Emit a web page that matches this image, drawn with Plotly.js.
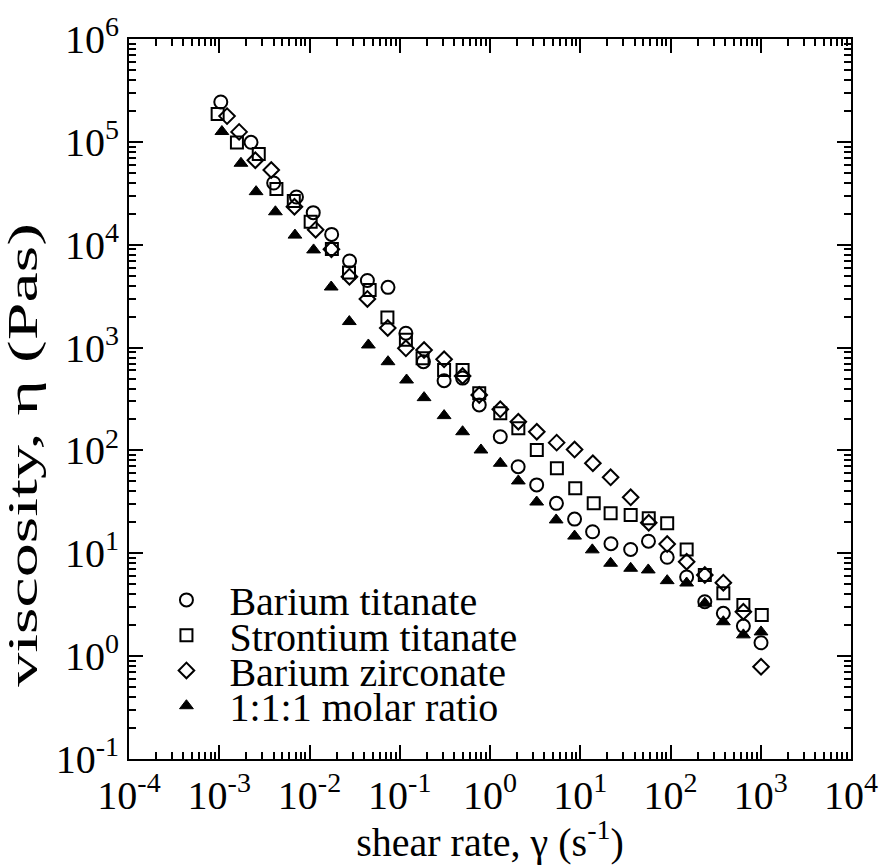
<!DOCTYPE html>
<html>
<head>
<meta charset="utf-8">
<script src="https://cdn.plot.ly/plotly-3.0.1.min.js"></script>
<style>html,body{margin:0;padding:0;background:#fff}</style>
</head>
<body>
<div id="chart" style="width:882px;height:865px"></div>
<script>
// Shear rate (1/s) and viscosity (Pa s) for each powder suspension
const btShear = [0.00104, 0.00225, 0.00401, 0.00717, 0.0110, 0.0176, 0.0278, 0.0438, 0.0741, 0.117, 0.183, 0.310, 0.497, 0.760, 1.30, 2.05, 3.29, 5.45, 8.65, 13.7, 21.9, 36.2, 57.0, 91.9, 151, 240, 385, 642, 1007];
const btVisc  = [2.44e5, 9.9e4, 3.98e4, 2.91e4, 2.05e4, 1.26e4, 6950, 4490, 3850, 1380, 729, 476, 505, 277, 136, 69.5, 46.2, 30.6, 21.5, 16.2, 12.4, 10.9, 13.1, 9.14, 5.88, 3.38, 2.61, 1.96, 1.35];

const stShear = [0.00096, 0.00157, 0.00274, 0.00430, 0.00670, 0.0103, 0.0177, 0.0274, 0.0464, 0.0730, 0.117, 0.179, 0.310, 0.497, 0.760, 1.30, 2.06, 3.30, 5.51, 8.80, 14.1, 21.7, 36.2, 57.4, 91.9, 151, 240, 385, 642, 1026];
const stVisc  = [1.87e5, 9.86e4, 7.62e4, 3.48e4, 2.66e4, 1.67e4, 9080, 5370, 3630, 1960, 1190, 787, 606, 606, 359, 230, 164, 101, 67, 42.8, 30.6, 24.5, 23.6, 21.9, 19.6, 10.9, 6.15, 4.08, 3.14, 2.51];

const bzShear = [0.00122, 0.00166, 0.00251, 0.00377, 0.00681, 0.0117, 0.0175, 0.0277, 0.0438, 0.0736, 0.117, 0.186, 0.310, 0.497, 0.760, 1.30, 2.06, 3.30, 5.48, 8.65, 13.8, 21.7, 36.2, 57.4, 91.9, 151, 240, 385, 642, 1007];
const bzVisc  = [1.78e5, 1.25e5, 6.62e4, 5.33e4, 2.34e4, 1.40e4, 9050, 4890, 2970, 1550, 984, 947, 769, 529, 346, 251, 190, 152, 119, 102, 75, 54.8, 35.0, 19.8, 12.3, 8.28, 6.15, 5.18, 2.70, 0.789];

const mrShear = [0.00107, 0.00174, 0.00256, 0.00419, 0.00690, 0.0111, 0.0174, 0.0276, 0.0449, 0.0741, 0.119, 0.186, 0.310, 0.497, 0.794, 1.30, 2.06, 3.29, 5.41, 8.65, 13.6, 21.7, 36.2, 56.7, 91.9, 151, 240, 385, 642, 1007];
const mrVisc  = [1.26e5, 6.19e4, 3.28e4, 2.09e4, 1.24e4, 8900, 3880, 1790, 1060, 729, 484, 326, 218, 152, 101, 75, 50.5, 31.5, 21.1, 14.7, 10.8, 8.0, 7.15, 6.89, 5.42, 5.14, 3.27, 2.16, 1.61, 1.72];

const seriesNames = ['Barium titanate', 'Strontium titanate', 'Barium zirconate', '1:1:1 molar ratio'];

// Decade exponents for the tick labels
const xExps = [-4, -3, -2, -1, 0, 1, 2, 3, 4];
const yExps = [-1, 0, 1, 2, 3, 4, 5, 6];

const decadeVals = exps => exps.map(e => Math.pow(10, e));
const decadeText = exps => exps.map(e => '10<sup>' + e + '</sup>');
const minorVals = exps => {
  const out = [];
  for (let i = 0; i < exps.length - 1; i++) {
    for (let m = 2; m <= 9; m++) out.push(m * Math.pow(10, exps[i]));
  }
  return out;
};

const traces = [
  { x: btShear, y: btVisc, name: seriesNames[0], mode: 'markers', legend: 'legend',
    marker: { symbol: 'circle-open', size: 13, color: '#000', line: { color: '#000', width: 2 } } },
  { x: stShear, y: stVisc, name: seriesNames[1], mode: 'markers', legend: 'legend2',
    marker: { symbol: 'square-open', size: 12, color: '#000', line: { color: '#000', width: 2 } } },
  { x: bzShear, y: bzVisc, name: seriesNames[2], mode: 'markers', legend: 'legend3',
    marker: { symbol: 'diamond-open', size: 12, color: '#000', line: { color: '#000', width: 2 } } },
  { x: mrShear, y: mrVisc, name: seriesNames[3], mode: 'markers', legend: 'legend4',
    marker: { symbol: 'triangle-up', size: 12, color: '#000', line: { color: '#000', width: 1 } } }
];

// One legend box per series so the rows can sit close together
const legendAt = y => ({
  x: 0.02, y: y, xanchor: 'left', yanchor: 'middle', itemwidth: 76,
  bgcolor: 'rgba(0,0,0,0)', borderwidth: 0,
  font: { family: 'Liberation Serif', size: 40, color: '#000' }
});

const layout = {
  width: 882, height: 865,
  margin: { l: 129, r: 31, t: 39, b: 106 },
  paper_bgcolor: '#fff', plot_bgcolor: '#fff',
  xaxis: {
    type: 'log', range: [-4, 4],
    showline: true, linewidth: 2, linecolor: '#000', mirror: 'ticks',
    ticks: 'inside', ticklen: 14, tickwidth: 1.5, tickcolor: '#000',
    tickmode: 'array', tickvals: decadeVals(xExps), ticktext: decadeText(xExps),
    minor: { ticks: 'inside', ticklen: 7, tickwidth: 1.5, tickcolor: '#000', tickmode: 'array', tickvals: minorVals(xExps) },
    showgrid: false, zeroline: false,
    tickfont: { family: 'Liberation Serif', size: 40, color: '#000' },
    title: { text: 'shear rate, γ (s<sup>-1</sup>)', font: { family: 'Liberation Serif', size: 40, color: '#000' } }
  },
  yaxis: {
    type: 'log', range: [-1, 6],
    showline: true, linewidth: 2, linecolor: '#000', mirror: 'ticks',
    ticks: 'inside', ticklen: 14, tickwidth: 1.5, tickcolor: '#000',
    tickmode: 'array', tickvals: decadeVals(yExps), ticktext: decadeText(yExps),
    minor: { ticks: 'inside', ticklen: 7, tickwidth: 1.5, tickcolor: '#000', tickmode: 'array', tickvals: minorVals(yExps) },
    showgrid: false, zeroline: false,
    tickfont: { family: 'Liberation Serif', size: 40, color: '#000' },
    title: { text: 'viscosity, η (Pas)', font: { family: 'Liberation Serif', size: 42, color: '#000' } }
  },
  legend:  legendAt(0.221),
  legend2: legendAt(0.172),
  legend3: legendAt(0.123),
  legend4: legendAt(0.074),
  showlegend: true
};

Plotly.newPlot('chart', traces, layout, { displayModeBar: false }).then(gd => {
  // Serif face on every label
  gd.querySelectorAll('text, tspan').forEach(el => el.style.setProperty('font-family', '"Liberation Serif", serif', 'important'));
  // The vertical axis caption is drawn elongated along its reading direction
  const t = gd.querySelector('.ytitle');
  if (t) {
    const x = t.getAttribute('x'), y = t.getAttribute('y');
    const base = t.getAttribute('transform') || '';
    t.setAttribute('transform', 'translate(0,56) ' + base +
      ' translate(' + x + ',' + y + ') scale(1.62,1) translate(' + (-x) + ',' + (-y) + ')');
  }
});
</script>
</body>
</html>
